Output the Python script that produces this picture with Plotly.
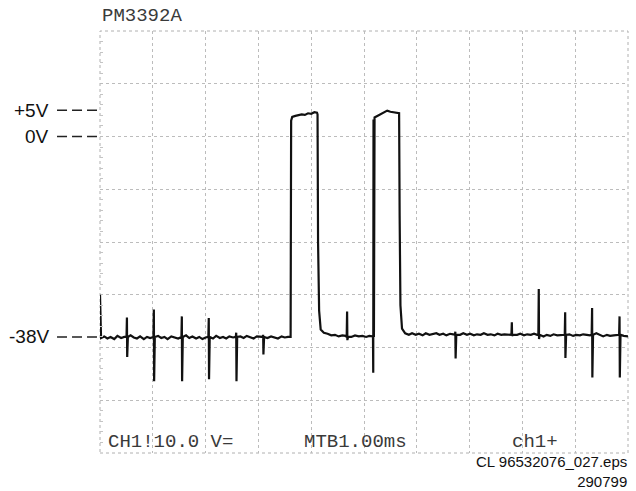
import plotly.graph_objects as go

# Oscilloscope capture: channel 1, 10 V/div, main timebase 1.00 ms/div
# Baseline samples (ms, V), including the settling tails after each pulse
baseline_ms = [0.00, 0.02, 0.08, 0.14, 0.20, 0.27, 0.33, 0.40, 0.46, 0.58, 0.64, 0.70,
               0.76, 0.83, 0.89, 0.95, 1.10, 1.16, 1.22, 1.28, 1.35, 1.41, 1.48, 1.63,
               1.69, 1.75, 1.82, 1.88, 1.94, 2.00, 2.14, 2.20, 2.27, 2.33, 2.39, 2.45,
               2.52, 2.66, 2.72, 2.78, 2.85, 2.91, 2.97, 3.03, 3.17, 3.24, 3.30, 3.37,
               3.44, 3.50, 3.56, 3.61,
               4.13, 4.15, 4.18, 4.24, 4.31, 4.38, 4.45, 4.52, 4.59, 4.65, 4.76, 4.83,
               4.90, 4.97, 5.04, 5.10, 5.15,
               5.675, 5.69, 5.72, 5.78, 5.85, 5.91, 5.98, 6.04, 6.11, 6.17, 6.24, 6.30,
               6.37, 6.43, 6.50, 6.56, 6.63, 6.69, 6.82, 6.88, 6.95, 7.01, 7.08, 7.14,
               7.21, 7.27, 7.34, 7.40, 7.47, 7.53, 7.60, 7.66, 7.73, 7.90, 7.96, 8.03,
               8.09, 8.16, 8.22, 8.28, 8.40, 8.46, 8.53, 8.59, 8.66, 8.72, 8.78, 8.89,
               8.96, 9.02, 9.09, 9.15, 9.22, 9.28, 9.40, 9.47, 9.53, 9.60, 9.66, 9.73,
               9.80, 9.92, 10.00]
baseline_v = [-30.0, -38.2, -37.9, -38.3, -38.0, -38.4, -37.8, -38.2, -38.0, -37.7, -38.1, -38.3,
              -37.9, -38.4, -38.0, -38.2, -37.8, -38.2, -38.0, -38.4, -37.9, -38.1, -38.3, -37.7,
              -38.2, -37.9, -38.3, -38.0, -38.4, -38.1, -38.3, -37.8, -38.2, -38.0, -38.3, -37.9,
              -38.1, -37.9, -38.2, -37.8, -38.1, -38.3, -37.9, -38.0, -38.2, -37.9, -38.1, -38.3,
              -37.9, -38.1, -38.0, -38.0,
              -20.0, -33.0, -36.6, -37.2, -37.4, -37.7, -37.6, -37.9, -37.7, -37.8, -38.0, -37.7,
              -37.9, -37.8, -38.0, -37.8, -37.9,
              -15.0, -32.0, -36.4, -37.3, -37.6, -37.3, -37.6, -37.4, -37.7, -37.3, -37.6, -37.5,
              -37.3, -37.6, -37.4, -37.7, -37.4, -37.5, -37.6, -37.3, -37.6, -37.4, -37.7, -37.5,
              -37.6, -37.3, -37.6, -37.5, -37.7, -37.4, -37.6, -37.5, -37.6, -37.6, -37.4, -37.7,
              -37.5, -37.6, -37.4, -37.6, -37.9, -37.6, -37.8, -37.5, -37.7, -37.6, -37.6, -37.5,
              -37.8, -37.6, -37.7, -37.5, -37.6, -37.7, -37.3, -37.7, -37.9, -37.6, -37.8, -37.7,
              -37.6, -37.8, -37.9]

# Pulse plateau samples (ms, V)
pulse_ms = [3.62, 3.64, 3.70, 3.76, 3.82, 3.88, 3.94, 4.00, 4.06, 4.11, 4.12,
            5.18, 5.20, 5.26, 5.32, 5.38, 5.44, 5.50, 5.56, 5.62, 5.665]
pulse_v = [3.0, 3.7, 3.9, 4.0, 4.2, 4.1, 4.4, 4.3, 4.6, 4.5, 4.2,
           3.2, 3.6, 3.9, 4.3, 4.5, 4.9, 4.7, 4.6, 4.5, 4.4]

# Switching spikes: time (ms), positive excursion (V), negative excursion (V)
spike_ms = [0.51, 1.02, 1.55, 2.06, 2.58, 3.09, 4.68, 5.17, 6.73, 7.80, 8.31, 8.81, 9.32, 9.84]
spike_peak_v = [-34.3, -32.8, -34.1, -34.4, -37.2, -37.6, -33.2, -37.9, -37.0, -35.2, -28.9, -33.3, -32.5, -34.1]
spike_dip_v = [-41.8, -46.4, -46.4, -46.0, -46.4, -41.3, -38.6, -44.8, -42.1, -37.8, -38.4, -42.0, -45.7, -45.7]

# Screen annotations
marker_labels = ["+5V", "0V", "-38V"]
marker_levels = [5, 0, -38]

# Merge everything into one time-ordered trace
samples = list(zip(baseline_ms, baseline_v)) + list(zip(pulse_ms, pulse_v))
for t, hi, lo in zip(spike_ms, spike_peak_v, spike_dip_v):
    samples += [(t - 0.008, -38.0 if t < 5.5 else -37.6), (t, hi), (t + 0.005, lo),
                (t + 0.018, -38.0 if t < 5.5 else -37.6)]
samples.sort(key=lambda p: p[0])
trace_t = [p[0] for p in samples]
trace_v = [p[1] for p in samples]

fig = go.Figure()
fig.add_trace(go.Scatter(x=trace_t, y=trace_v, mode="lines",
                         line=dict(color="#111111", width=2.2), hoverinfo="skip",
                         cliponaxis=False))

grid = dict(showgrid=True, gridcolor="#bcbcbc", griddash="dot", gridwidth=1,
            zeroline=False, showticklabels=False, ticks="", showline=False,
            fixedrange=True)
fig.update_xaxes(range=[0, 10], dtick=1, tick0=0, **grid)
fig.update_yaxes(range=[-60, 20], dtick=10, tick0=-60,
                 minor=dict(ticks="inside", ticklen=3, tickcolor="#c4c4c4", dtick=2),
                 **grid)

# Screen border
fig.add_shape(type="rect", xref="paper", yref="paper", x0=0, x1=1, y0=0, y1=1,
              line=dict(color="#b0b0b0", width=1, dash="dot"), layer="below")

mono = dict(family="Liberation Mono, Courier New, monospace", size=19, color="#3a3a3a")
sans = dict(family="Liberation Sans, Arial, sans-serif", size=19, color="#111111")
small = dict(family="Liberation Sans, Arial, sans-serif", size=15, color="#111111")

annotations = [
    dict(text="PM3392A", x=0, y=1.036, xref="paper", yref="paper",
         xanchor="left", yanchor="middle", showarrow=False, font=mono),
    dict(text="CH1!10.0 V=", x=0.011, y=0.026, xref="paper", yref="paper",
         xanchor="left", yanchor="middle", showarrow=False, font=mono),
    dict(text="MTB1.00ms", x=0.383, y=0.026, xref="paper", yref="paper",
         xanchor="left", yanchor="middle", showarrow=False, font=mono),
    dict(text="ch1+", x=0.776, y=0.026, xref="paper", yref="paper",
         xanchor="left", yanchor="middle", showarrow=False, font=mono),
    dict(text="CL 96532076_027.eps<br>290799", x=1.0, y=-0.089, xref="paper", yref="paper",
         xanchor="right", yanchor="bottom", align="right", showarrow=False,
         font=small, borderpad=0),
]
for label, level in zip(marker_labels, marker_levels):
    annotations.append(dict(text=label, x=-0.093, y=level, xref="paper", yref="y",
                            xanchor="right", yanchor="middle", showarrow=False, font=sans))
    fig.add_shape(type="line", xref="paper", yref="y", x0=-0.0814, x1=-0.0057,
                  y0=level, y1=level, line=dict(color="#222222", width=1.5, dash="10px,5px"))

fig.update_layout(width=636, height=491, margin=dict(l=100, r=8, t=31, b=38),
                  paper_bgcolor="white", plot_bgcolor="white", showlegend=False,
                  annotations=annotations)

fig.write_html("out.html")
